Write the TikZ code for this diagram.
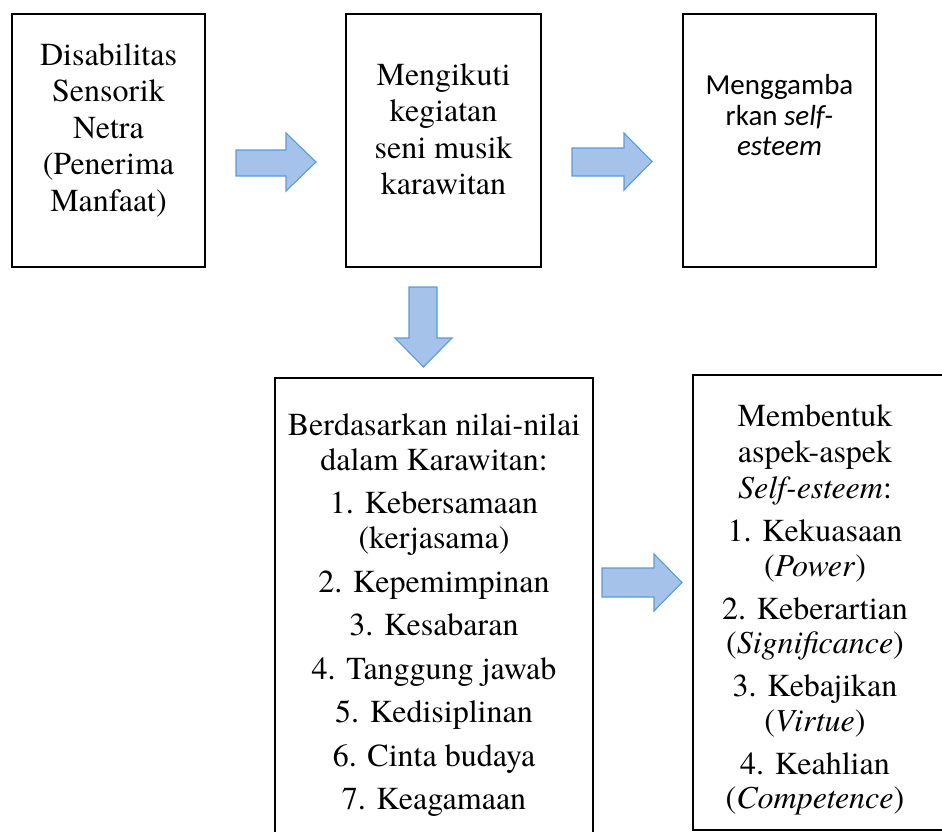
\documentclass[tikz,border=0pt]{standalone}
\usepackage{fontspec}
\IfFontExistsTF{texgyretermes-regular.otf}{%
  \newfontfamily\serifx{texgyretermes}[Extension=.otf,UprightFont=*-regular,ItalicFont=*-italic,BoldFont=*-bold]}{%
  \newfontfamily\serifx{Liberation Serif}}
\newfontfamily\calfont{Carlito}
\definecolor{arrowfill}{HTML}{A5C3EA}
\definecolor{arrowdraw}{HTML}{5B9BD5}
\begin{document}
\begin{tikzpicture}[x=1pt,y=-1pt,
  box/.style={draw=black,line width=2.6pt,inner sep=0pt,outer sep=0pt,anchor=north west},
  txt/.style={anchor=base,inner sep=0pt,font=\serifx\fontsize{32}{36.6}\selectfont},
  ctxt/.style={anchor=base,inner sep=0pt,font=\calfont\fontsize{29}{30.5}\selectfont},
  blockarrow/.style={fill=arrowfill,draw=arrowdraw,line width=1.1pt,line join=miter}]
\useasboundingbox (0,0) rectangle (942,831);
\clip (0,0) rectangle (942,831);
% boxes
\node[box,minimum width=193pt,minimum height=253pt] (b1) at (12,14) {};
\node[box,minimum width=195pt,minimum height=253pt] (b2) at (346,14) {};
\node[box,minimum width=193pt,minimum height=253pt] (b3) at (683,14) {};
\node[box,minimum width=318pt,minimum height=520pt] (b4) at (275,378) {};
\node[box,minimum width=260pt,minimum height=455pt] (b5) at (693,375) {};
% block arrows
\draw[blockarrow] (236,150) -- (286,150) -- (286,133) -- (316,162) -- (286,191) -- (286,176) -- (236,176) -- cycle;
\draw[blockarrow] (572,148) -- (624,148) -- (624,133) -- (652,161.5) -- (624,190) -- (624,176) -- (572,176) -- cycle;
\draw[blockarrow] (409,287) -- (437,287) -- (437,338) -- (452,338) -- (423.5,367) -- (395,338) -- (409,338) -- cycle;
\draw[blockarrow] (602,568) -- (654,568) -- (654,554) -- (682,582.5) -- (654,611) -- (654,597) -- (602,597) -- cycle;
% box 1
\node[txt] (t11) at (108.5,65) {Disabilitas};
\node[txt] (t12) at (108.5,101.6) {Sensorik};
\node[txt] (t13) at (108.5,138.2) {Netra};
\node[txt] (t14) at (108.5,174.8) {(Penerima};
\node[txt] (t15) at (108.5,211.4) {Manfaat)};
% box 2
\node[txt] (t21) at (443.5,85) {Mengikuti};
\node[txt] (t22) at (443.5,121.6) {kegiatan};
\node[txt] (t23) at (443.5,158.2) {seni musik};
\node[txt] (t24) at (443.5,194.8) {karawitan};
% box 3
\node[ctxt] (t31) at (779.5,94) {Menggamba};
\node[ctxt] (t32) at (779.5,125) {rkan \textit{self-}};
\node[ctxt] (t33) at (779.5,155) {\textit{esteem}};
% box 4
\node[txt] (t41) at (434,435) {Berdasarkan nilai-nilai};
\node[txt] (t42) at (434,470) {dalam Karawitan:};
\node[txt] (t43) at (434,513.5) {1. Kebersamaan};
\node[txt] (t44) at (434,548.5) {(kerjasama)};
\node[txt] (t45) at (434,592) {2. Kepemimpinan};
\node[txt] (t46) at (434,635.5) {3. Kesabaran};
\node[txt] (t47) at (434,679) {4. Tanggung jawab};
\node[txt] (t48) at (434,722.5) {5. Kedisiplinan};
\node[txt] (t49) at (434,766) {6. Cinta budaya};
\node[txt] (t410) at (434,809.5) {7. Keagamaan};
% box 5
\node[txt] (t51) at (815,426) {Membentuk};
\node[txt] (t52) at (815,462) {aspek-aspek};
\node[txt] (t53) at (815,498.5) {\textit{Self-esteem}:};
\node[txt] (t54) at (815,541.5) {1. Kekuasaan};
\node[txt] (t55) at (815,576) {(\textit{Power})};
\node[txt] (t56) at (815,619) {2. Keberartian};
\node[txt] (t57) at (815,653.5) {(\textit{Significance})};
\node[txt] (t58) at (815,696.5) {3. Kebajikan};
\node[txt] (t59) at (815,731) {(\textit{Virtue})};
\node[txt] (t510) at (815,774) {4. Keahlian};
\node[txt] (t511) at (815,808.5) {(\textit{Competence})};
\end{tikzpicture}
\end{document}
